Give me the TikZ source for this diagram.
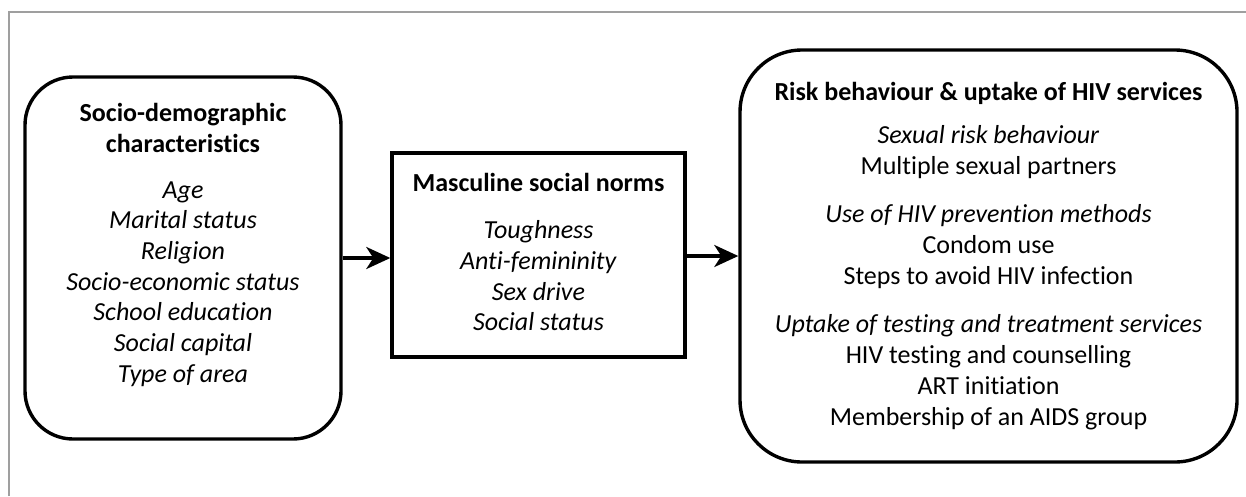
\documentclass[tikz,border=0pt]{standalone}
\usepackage{fontspec}
\setmainfont[Ligatures=NoCommon]{Carlito}
\usetikzlibrary{arrows.meta}

\begin{document}
\begin{tikzpicture}
[
    x=1pt, y=-1pt,
    box/.style={draw, line width=3.4pt, inner sep=0pt},
    roundbox/.style={box, rounded corners=48pt},
    words/.style={align=center, inner sep=0pt, font=\fontsize{26}{30.7}\selectfont},
    link/.style={line width=3.4pt, -{Stealth[length=24pt,width=22pt,inset=7pt]}},
]
\useasboundingbox (0,0) rectangle (1246,496);
% frame of the figure
\draw[gray!75, line width=1.4pt] (9,496) -- (9,12) -- (1246,12);

% the three boxes
\node[roundbox, minimum width=316pt, minimum height=362pt] (socio) at (183,258) {};
\node[box, minimum width=293pt, minimum height=204pt] (norms) at (538.5,255) {};
\node[roundbox, rounded corners=62pt, minimum width=497pt, minimum height=412pt] (risk) at (988.5,256) {};

\node[words] (sociotext) at (183,245) {\textbf{Socio-demographic}\\ \textbf{characteristics}\\[15pt]
    \textit{Age}\\ \textit{Marital status}\\ \textit{Religion}\\ \textit{Socio-economic status}\\
    \textit{School education}\\ \textit{Social capital}\\ \textit{Type of area}};
\node[words] (normstext) at (538.5,252) {\textbf{Masculine social norms}\\[17pt]
    \textit{Toughness}\\ \textit{Anti-femininity}\\ \textit{Sex drive}\\ \textit{Social status}};
\node[words] (risktext) at (988.5,256) {\textbf{Risk behaviour \& uptake of HIV services}\\[12pt]
    \textit{Sexual risk behaviour}\\ Multiple sexual partners\\[18pt]
    \textit{Use of HIV prevention methods}\\ Condom use\\ Steps to avoid HIV infection\\[18pt]
    \textit{Uptake of testing and treatment services}\\ HIV testing and counselling\\
    ART initiation\\ Membership of an AIDS group};

\draw[link] (socio.east) -- (socio.east -| norms.west);
\draw[link] (norms.east |- risk.west) -- (risk.west);
\end{tikzpicture}
\end{document}
